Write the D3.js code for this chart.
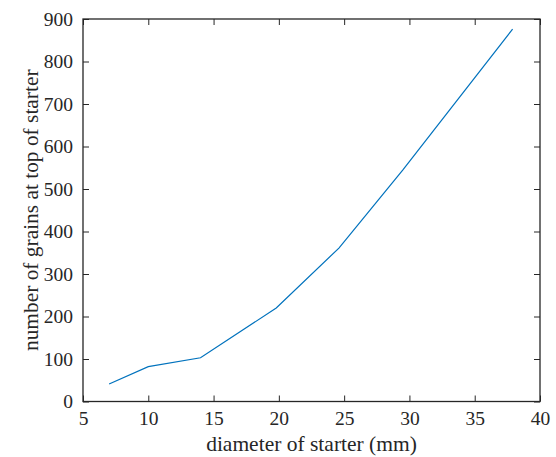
<!DOCTYPE html>
<html><head><meta charset="utf-8">
<script src="https://cdn.jsdelivr.net/npm/d3@7"></script>
<style>body{margin:0;background:#fff}svg{display:block}
svg text{font-family:"Liberation Serif","DejaVu Serif",serif;fill:#262626}</style>
</head><body>
<script>
const diameter = [7, 10, 14, 19.8, 24.6, 29.5, 37.9];
const grains = [41, 82, 103, 220, 361, 545, 876];
const xTicks = [5, 10, 15, 20, 25, 30, 35, 40];
const yTicks = [0, 100, 200, 300, 400, 500, 600, 700, 800, 900];

const W = 556, H = 457;
const m = {left: 83, top: 19, right: 556 - 540, bottom: 457 - 401.5};
const svg = d3.select("body").append("svg").attr("width", W).attr("height", H);
const x = d3.scaleLinear().domain([5, 40]).range([m.left, W - m.right]);
const y = d3.scaleLinear().domain([0, 900]).range([H - m.bottom, m.top]);
const axCol = "#262626";

function style(g, labels) {
  g.attr("font-family", null).attr("font-size", null);
  g.select(".domain").remove();
  g.selectAll("line").attr("stroke", axCol).attr("stroke-width", 1);
  g.selectAll("text").style("font-size", "19.5px");
  if (!labels) g.selectAll("text").remove();
}
svg.append("g").attr("transform", `translate(0,${y(0)})`)
  .call(d3.axisBottom(x).tickValues(xTicks).tickSizeInner(-6).tickSizeOuter(0).tickPadding(10))
  .call(g => style(g, true));
svg.append("g").attr("transform", `translate(0,${y(900)})`)
  .call(d3.axisTop(x).tickValues(xTicks).tickSizeInner(-6).tickSizeOuter(0))
  .call(g => style(g, false));
svg.append("g").attr("transform", `translate(${x(5)},0)`)
  .call(d3.axisLeft(y).tickValues(yTicks).tickSizeInner(-6).tickSizeOuter(0).tickPadding(10))
  .call(g => style(g, true));
svg.append("g").attr("transform", `translate(${x(40)},0)`)
  .call(d3.axisRight(y).tickValues(yTicks).tickSizeInner(-6).tickSizeOuter(0))
  .call(g => style(g, false));

svg.append("rect").attr("x", x(5)).attr("y", y(900))
  .attr("width", x(40) - x(5)).attr("height", y(0) - y(900))
  .attr("fill", "none").attr("stroke", axCol).attr("stroke-width", 1.3);

svg.append("path").datum(diameter.map((d, i) => [d, grains[i]]))
  .attr("fill", "none").attr("stroke", "#0072BD").attr("stroke-width", 1.2)
  .attr("d", d3.line().x(d => x(d[0])).y(d => y(d[1])));

svg.append("text").attr("x", (x(5) + x(40)) / 2).attr("y", 451)
  .attr("text-anchor", "middle").style("font-size", "21.5px")
  .text("diameter of starter (mm)");
svg.append("text").attr("transform", `translate(37.5,${(y(0) + y(900)) / 2}) rotate(-90)`)
  .attr("text-anchor", "middle").style("font-size", "21.4px")
  .text("number of grains at top of starter");
</script>
</body></html>
